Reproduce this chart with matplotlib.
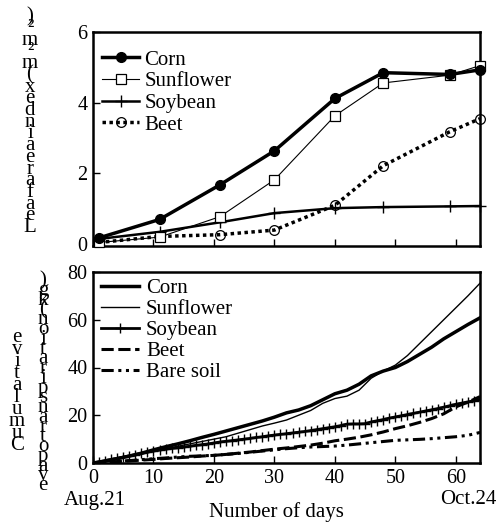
import matplotlib
matplotlib.use("Agg")
import matplotlib.pyplot as plt
import numpy as np

plt.rcParams['font.family'] = ['Liberation Serif', 'DejaVu Serif']
plt.rcParams['mathtext.fontset'] = 'stix'

# ---- Top panel: leaf area index ----
lai_days = [1, 11, 21, 30, 40, 48, 59, 64]
lai_corn = [0.18, 0.70, 1.68, 2.64, 4.12, 4.85, 4.80, 4.93]
lai_sunflower = [0.05, 0.20, 0.78, 1.82, 3.63, 4.56, 4.78, 5.05]
lai_soybean = [0.15, 0.35, 0.62, 0.88, 1.02, 1.05, 1.07, 1.08]
lai_beet = [0.05, 0.22, 0.27, 0.40, 1.10, 2.22, 3.18, 3.55]

# ---- Bottom panel: cumulative evapotranspiration ----
et_days = list(range(0, 65, 2))
et_corn = [0, 0.8, 1.8, 2.9, 4.1, 5.5, 6.8, 8.0, 9.3, 10.7, 12.0, 13.4, 14.8,
           16.2, 17.6, 19.2, 21.0, 22.2, 24.0, 26.5, 29.0, 30.5, 33.0, 36.5,
           38.5, 40.0, 42.5, 45.5, 48.5, 52.0, 55.0, 58.0, 60.8]
et_sunflower = [0, 0.8, 1.7, 2.7, 3.8, 4.9, 6.0, 7.0, 8.0, 9.0, 10.0, 11.0,
                12.5, 14.0, 15.5, 16.7, 18.0, 20.0, 22.0, 25.0, 27.0, 28.0,
                30.5, 35.5, 38.5, 41.0, 45.0, 50.0, 55.0, 60.0, 65.0, 70.0, 75.3]
et_beet = [0, 0.3, 0.6, 0.9, 1.2, 1.5, 1.9, 2.2, 2.5, 2.9, 3.2, 3.6, 4.1, 4.6,
           5.2, 5.8, 6.3, 6.9, 7.5, 8.3, 9.3, 10.0, 10.8, 11.8, 13.0, 14.4,
           15.6, 17.0, 18.6, 20.6, 23.5, 25.5, 27.8]
et_bare = [0, 0.3, 0.7, 1.0, 1.4, 1.8, 2.1, 2.5, 2.8, 3.0, 3.2, 3.6, 4.0, 4.5,
           5.0, 5.5, 6.0, 6.4, 6.7, 6.9, 7.1, 7.5, 8.0, 8.5, 9.0, 9.5, 9.7,
           9.9, 10.2, 10.6, 11.0, 11.6, 12.8]
soy_days = list(range(0, 65))
et_soybean = [0, 0.5, 1.0, 1.5, 2.0, 2.5, 3.0, 3.5, 4.0, 4.5, 5.0, 5.4, 5.8,
              6.1, 6.4, 6.7, 7.0, 7.4, 7.7, 8.0, 8.4, 8.8, 9.1, 9.4, 9.7, 10.0,
              10.3, 10.7, 11.0, 11.4, 11.7, 12.0, 12.3, 12.6, 12.9, 13.2, 13.6,
              14.0, 14.4, 14.8, 15.2, 15.7, 16.3, 16.4, 16.4, 16.5, 17.2, 17.7,
              18.2, 18.8, 19.3, 19.8, 20.3, 20.8, 21.3, 21.8, 22.3, 22.8, 23.4,
              24.0, 24.6, 25.1, 25.6, 26.1, 26.6]

xticks = [0, 10, 20, 30, 40, 50, 60]
top_yticks = [0, 2, 4, 6]
bot_yticks = [0, 20, 40, 60, 80]

W, H = 502, 524
fig = plt.figure(figsize=(W / 100, H / 100), dpi=100)

def px_axes(l, t, r, b):
    return fig.add_axes([l / W, 1 - b / H, (r - l) / W, (b - t) / H])

ax1 = px_axes(93, 32, 480, 246)
ax2 = px_axes(93, 272, 480, 463)

FS = 15
for ax in (ax1, ax2):
    for s in ax.spines.values():
        s.set_linewidth(1.8)
    ax.tick_params(direction='in', length=5, width=1, labelsize=14.5, pad=4)
    ax.set_xlim(0, 64)
    ax.set_xticks(xticks)

ax1.plot(lai_days, lai_corn, color='black', lw=2.5, marker='o', ms=7, label='Corn', clip_on=False, zorder=5)
ax1.plot(lai_days, lai_sunflower, color='black', lw=0.8, marker='s', ms=7, mfc='white', mew=0.9, label='Sunflower', clip_on=False, zorder=4)
ax1.plot(lai_days, lai_soybean, color='black', lw=1.8, marker='+', ms=9, mew=1.0, label='Soybean', clip_on=False, zorder=3)
ax1.plot(lai_days, lai_beet, color='black', lw=2.5, ls=(0, (1, 1)), marker='o', ms=7, mfc='none', mew=0.9, label='Beet', clip_on=False, zorder=3)
ax1.set_ylim(-0.05, 6)
ax1.set_yticks(top_yticks)
ax1.tick_params(axis='x', labelbottom=False)
ax1.legend(loc='upper left', bbox_to_anchor=(0.023, 0.915), frameon=False, fontsize=FS,
           borderpad=0, borderaxespad=0, labelspacing=0.1, handlelength=1.8, handletextpad=0.25)

ax2.plot(et_days, et_corn, color='black', lw=2.5, label='Corn')
ax2.plot(et_days, et_sunflower, color='black', lw=1.0, label='Sunflower')
ax2.plot(soy_days, et_soybean, color='black', lw=2.0, marker='+', ms=7, mew=1.0, label='Soybean')
ax2.plot(et_days, et_beet, color='black', lw=2.2, ls=(0, (4, 1.5)), label='Beet')
ax2.plot(et_days, et_bare, color='black', lw=2.2, ls=(0, (4, 1.5, 1, 1.5, 1, 1.5)), label='Bare soil')
ax2.set_ylim(0, 80)
ax2.set_yticks(bot_yticks)
ax2.legend(loc='upper left', bbox_to_anchor=(0.021, 0.965), frameon=False, fontsize=FS,
           borderpad=0, borderaxespad=0, labelspacing=0.07, handlelength=1.8, handletextpad=0.35)

def ftext(x, y, s, **kw):
    fig.text(x / W, 1 - y / H, s, **kw)

ftext(95, 500, 'Aug.21', fontsize=FS, ha='center', va='center')
ftext(468, 500, 'Oct.24', fontsize=FS, ha='center', va='center')
ftext(276, 512, 'Number of days', fontsize=FS, ha='center', va='center')

def stacked(s):
    return '\n'.join(reversed([c for c in s if c != ' ']))

ftext(30, 122, stacked('Leaf area index (m² m²)'), fontsize=FS, ha='center', va='center',
      multialignment='center', linespacing=0.48)
ftext(17, 392, stacked('Cumulative'), fontsize=FS, ha='center', va='center',
      multialignment='center', linespacing=0.5)
ftext(43, 383, stacked('evapotranspiration (kg)'), fontsize=FS, ha='center', va='center',
      multialignment='center', linespacing=0.34)

fig.savefig('out.png', dpi=100)
